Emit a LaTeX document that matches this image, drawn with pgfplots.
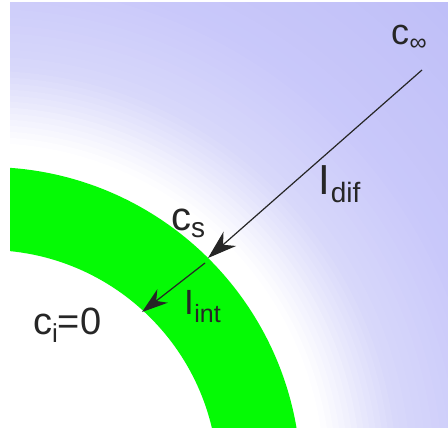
\documentclass[border=0pt]{standalone}
\usepackage{fontspec}
\setmainfont{Liberation Sans}
\usepackage{pgfplots}
\pgfplotsset{compat=1.18}
\usetikzlibrary{arrows.meta}
\definecolor{bandgreen}{RGB}{5,250,5}
\newcommand{\ring}[4]{\fill[color={rgb,255:red,#2;green,#3;blue,#4}] (axis cs:-13,481) circle[radius=#1];}
\begin{document}
\begin{tikzpicture}
\begin{axis}[x={(1pt,0)}, y={(0,-1pt)}, xmin=0, xmax=448, ymin=0, ymax=430,
  hide axis, clip=false]
\coordinate (ll) at (axis cs:0,430);
\coordinate (ur) at (axis cs:448,0);
\fill[white] (axis cs:0,0) rectangle (axis cs:448,430);
\begin{scope}
  \clip (axis cs:10,3) rectangle (axis cs:448,428);
  \ring{700}{189}{189}{247}
  \ring{688}{190}{190}{247}
  \ring{676}{191}{190}{247}
  \ring{664}{191}{191}{248}
  \ring{652}{192}{192}{248}
  \ring{640}{193}{193}{248}
  \ring{628}{194}{193}{248}
  \ring{616}{194}{194}{248}
  \ring{604}{195}{195}{249}
  \ring{592}{196}{195}{249}
  \ring{580}{197}{196}{249}
  \ring{568}{197}{197}{249}
  \ring{556}{198}{197}{249}
  \ring{544}{199}{198}{249}
  \ring{532}{200}{199}{250}
  \ring{520}{200}{200}{250}
  \ring{512}{201}{200}{250}
  \ring{504}{202}{201}{250}
  \ring{496}{204}{203}{250}
  \ring{488}{205}{204}{250}
  \ring{480}{206}{205}{250}
  \ring{472}{207}{207}{250}
  \ring{464}{208}{208}{250}
  \ring{456}{210}{209}{250}
  \ring{448}{211}{211}{250}
  \ring{440}{212}{212}{250}
  \ring{432}{213}{213}{250}
  \ring{424}{215}{215}{250}
  \ring{416}{216}{216}{250}
  \ring{410}{219}{219}{250}
  \ring{404}{222}{222}{251}
  \ring{398}{225}{225}{251}
  \ring{392}{228}{228}{252}
  \ring{386}{231}{231}{252}
  \ring{380}{234}{234}{252}
  \ring{374}{238}{238}{253}
  \ring{368}{241}{241}{253}
  \ring{362}{244}{244}{254}
  \ring{356}{247}{247}{254}
  \ring{350}{250}{250}{254}
  \ring{344}{253}{253}{255}
  \ring{338}{255}{255}{255}
  \fill[bandgreen, even odd rule] (axis cs:-13,481) circle[radius=314] (axis cs:-13,481) circle[radius=231];
\end{scope}
% arrows
\draw[line width=1.2pt, black!85, -{Stealth[length=29pt,width=19pt,inset=9pt]}] (axis cs:422,70) -- (axis cs:208,258);
\draw[line width=1.2pt, black!85, -{Stealth[length=26pt,width=17pt,inset=8pt]}] (axis cs:205,263) -- (axis cs:142,312);
% labels
\node[anchor=base west, inner sep=0pt, text=black!85] at (axis cs:391,45) {{\fontsize{36}{36}\selectfont c}\kern0.5pt\raisebox{-6pt}{\fontsize{24}{24}\selectfont ∞}};
\node[anchor=base west, inner sep=0pt, text=black!85] at (axis cs:171,231) {{\fontsize{40}{40}\selectfont c}\raisebox{-7pt}{\fontsize{28}{28}\selectfont s}};
\node[anchor=base west, inner sep=0pt, text=black!85] at (axis cs:33,335) {{\fontsize{38}{38}\selectfont c}\raisebox{-8pt}{\fontsize{26}{26}\selectfont i}{\fontsize{38}{38}\selectfont =0}};
\node[anchor=base west, inner sep=0pt, text=black!85] at (axis cs:318,195) {{\fontsize{42}{42}\selectfont I}\kern1pt\raisebox{-8pt}{\fontsize{28}{28}\selectfont dif}};
\node[anchor=base west, inner sep=0pt, text=black!85] at (axis cs:184,315) {{\fontsize{35}{35}\selectfont I}\kern0.5pt\raisebox{-8pt}{\fontsize{25}{25}\selectfont int}};
\end{axis}
\pgfresetboundingbox
\path[use as bounding box] (ll) rectangle (ur);
\end{tikzpicture}
\end{document}
